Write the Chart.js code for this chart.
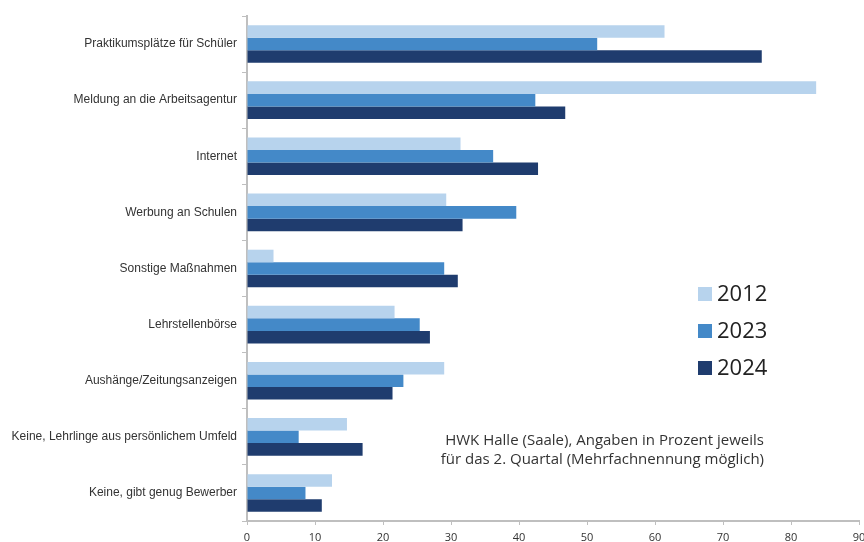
<!DOCTYPE html>
<html lang="de">
<head>
    <meta charset="UTF-8">
    <title>Maßnahmen zur Lehrlingsgewinnung</title>
    <script src="https://cdn.jsdelivr.net/npm/chart.js"></script>
    <style>
        html, body { margin: 0; padding: 0; background: #fff; }
        #wrap { width: 864px; height: 542px; position: relative; }
    </style>
</head>
<body>
<div id="wrap"><canvas id="chart"></canvas></div>
<script>
    // Categories (top to bottom)
    const categories = [
        'Praktikumsplätze für Schüler',
        'Meldung an die Arbeitsagentur',
        'Internet',
        'Werbung an Schulen',
        'Sonstige Maßnahmen',
        'Lehrstellenbörse',
        'Aushänge/Zeitungsanzeigen',
        'Keine, Lehrlinge aus persönlichem Umfeld',
        'Keine, gibt genug Bewerber'
    ];
    const years = ['2012', '2023', '2024'];
    const values2012 = [61.4, 83.7, 31.4, 29.3, 3.9, 21.7, 29.0, 14.7, 12.5];
    const values2023 = [51.5, 42.4, 36.2, 39.6, 29.0, 25.4, 23.0, 7.6, 8.6];
    const values2024 = [75.7, 46.8, 42.8, 31.7, 31.0, 26.9, 21.4, 17.0, 11.0];
    const xTicks = [0, 10, 20, 30, 40, 50, 60, 70, 80, 90];
    const noteLines = [
        'HWK Halle (Saale), Angaben in Prozent jeweils',
        'für das 2. Quartal (Mehrfachnennung möglich)'
    ];

    const colors = ['#b7d3ed', '#4489c8', '#1f3c6e'];
    const axisColor = '#bfbfbf';

    // legend + note drawn inside the plot area
    const sideText = {
        id: 'sideText',
        afterDraw(chart) {
            const ctx = chart.ctx;
            ctx.save();
            ctx.textBaseline = 'middle';
            ctx.font = '22px "Open Sans", sans-serif';
            const ys = [294, 331, 368];
            chart.data.datasets.forEach((ds, i) => {
                ctx.fillStyle = ds.backgroundColor;
                ctx.fillRect(698, ys[i] - 7, 14, 14);
                ctx.fillStyle = '#222';
                ctx.textAlign = 'left';
                ctx.fillText(ds.label, 717, ys[i] + 1);
            });
            ctx.font = '15px "Open Sans", sans-serif';
            ctx.textAlign = 'right';
            ctx.fillStyle = '#333';
            noteLines.forEach((t, i) => ctx.fillText(t, 764, 441 + i * 19));
            ctx.restore();
        }
    };

    new Chart(document.getElementById('chart'), {
        type: 'bar',
        data: {
            labels: categories,
            datasets: [
                { label: years[0], data: values2012, backgroundColor: colors[0] },
                { label: years[1], data: values2023, backgroundColor: colors[1] },
                { label: years[2], data: values2024, backgroundColor: colors[2] }
            ]
        },
        options: {
            indexAxis: 'y',
            responsive: true,
            maintainAspectRatio: false,
            animation: false,
            layout: { padding: { top: 16, right: 5, left: 0, bottom: 0 } },
            datasets: {
                bar: { categoryPercentage: 0.67, barPercentage: 1.0, borderWidth: 0 }
            },
            plugins: {
                legend: { display: false },
                tooltip: { enabled: false }
            },
            scales: {
                x: {
                    min: 0,
                    max: 90,
                    afterBuildTicks(axis) { axis.ticks = xTicks.map(v => ({ value: v })); },
                    afterFit(axis) {
                        axis.height = 21;
                        axis.paddingRight = 0;
                    },
                    border: { color: axisColor, width: 2 },
                    grid: {
                        drawOnChartArea: false,
                        drawTicks: true,
                        tickLength: 4,
                        color: axisColor
                    },
                    ticks: {
                        padding: 6,
                        color: '#333',
                        font: { family: '"Open Sans", sans-serif', size: 11 }
                    }
                },
                y: {
                    afterFit(axis) { axis.width = 247; },
                    border: { color: axisColor, width: 2 },
                    grid: {
                        offset: true,
                        drawOnChartArea: false,
                        drawTicks: true,
                        tickLength: 5,
                        color: axisColor
                    },
                    ticks: {
                        padding: 5,
                        color: '#333',
                        font: { family: '"Liberation Sans", Arial, sans-serif', size: 12 }
                    }
                }
            }
        },
        plugins: [sideText]
    });
</script>
</body>
</html>
